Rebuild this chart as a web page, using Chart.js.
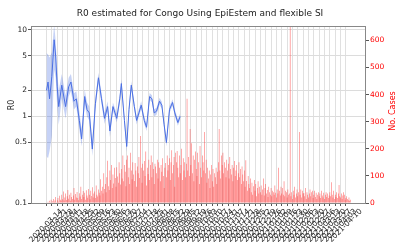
<!DOCTYPE html>
<html>
<head>
<meta charset="utf-8">
<script src="https://cdn.jsdelivr.net/npm/chart.js@4.4.0/dist/chart.umd.min.js"></script>
<style>
  html, body { margin: 0; padding: 0; background: #fff; }
  #wrap { width: 400px; height: 250px; }
</style>
</head>
<body>
<div id="wrap"><canvas id="chart"></canvas></div>
<script>
// ── DATA ──
// weekly tick labels (day 0 = 2020-03-14)
const tickLabels = [
  '2020-03-14','2020-03-21','2020-03-28','2020-04-04','2020-04-11','2020-04-18','2020-04-25',
  '2020-05-02','2020-05-09','2020-05-16','2020-05-23','2020-05-30','2020-06-06','2020-06-13',
  '2020-06-20','2020-06-27','2020-07-04','2020-07-11','2020-07-18','2020-07-25','2020-08-01',
  '2020-08-08','2020-08-15','2020-08-22','2020-08-29','2020-09-05','2020-09-12','2020-09-19',
  '2020-09-26','2020-10-03','2020-10-10','2020-10-17','2020-10-24','2020-10-31','2020-11-07',
  '2020-11-14','2020-11-21','2020-11-28','2020-12-05','2020-12-12','2020-12-19','2020-12-26',
  '2021-01-02','2021-01-09','2021-01-16','2021-01-23','2021-01-30','2021-02-06','2021-02-13',
  '2021-02-20','2021-02-27','2021-03-06','2021-03-13','2021-03-20','2021-03-27','2021-04-03',
  '2021-04-10'
];

// daily new cases, one row per week
const dailyCases = [
  2, 0, 5, 0, 8, 3, 12,
  0, 6, 15, 4, 9, 22, 3,
  10, 18, 5, 27, 12, 8, 30,
  14, 42, 9, 20, 35, 11, 25,
  48, 16, 30, 8, 38, 22, 15,
  28, 55, 12, 33, 20, 41, 18,
  10, 36, 24, 60, 15, 30, 44,
  22, 38, 12, 47, 28, 19, 52,
  30, 14, 45, 26, 58, 20, 35,
  42, 18, 65, 30, 24, 50, 38,
  28, 88, 45, 60, 35, 110, 52,
  70, 40, 95, 156, 62, 48, 120,
  85, 140, 55, 105, 72, 130, 92,
  60, 132, 98, 75, 150, 110, 68,
  125, 90, 175, 80, 140, 115, 62,
  160, 175, 95, 130, 70, 185, 120,
  88, 150, 105, 81, 148, 120, 60,
  135, 110, 170, 92, 247, 130, 75,
  145, 120, 155, 100, 190, 65, 130,
  107, 160, 85, 140, 175, 95, 150,
  125, 70, 145, 135, 110, 160, 90,
  150, 130, 80, 140, 115, 165, 100,
  55, 130, 148, 95, 175, 120, 140,
  165, 85, 150, 195, 110, 140, 170,
  60, 185, 150, 192, 130, 95, 175,
  110, 140, 200, 85, 165, 120, 150,
  95, 145, 385, 120, 170, 100, 273,
  140, 220, 110, 175, 80, 160, 190,
  125, 100, 185, 150, 70, 210, 130,
  95, 175, 150, 120, 262, 110, 160,
  75, 130, 90, 120, 55, 105, 140,
  80, 125, 60, 110, 95, 130, 70,
  115, 150, 273, 120, 90, 175, 140,
  185, 110, 150, 130, 95, 160, 120,
  145, 90, 170, 125, 105, 140, 80,
  130, 155, 100, 120, 140, 85, 110,
  150, 95, 125, 70, 135, 105, 80,
  120, 60, 158, 81, 45, 100, 70,
  55, 90, 40, 75, 30, 62, 85,
  45, 70, 25, 55, 80, 35, 60,
  40, 65, 30, 50, 90, 28, 55,
  70, 35, 48, 22, 60, 40, 30,
  55, 25, 45, 40, 30, 65, 38,
  20, 50, 35, 130, 45, 28, 60,
  35, 55, 30, 80, 25, 45, 40,
  20, 50, 30, 35, 650, 25, 40,
  15, 45, 30, 60, 20, 35, 50,
  25, 40, 262, 30, 50, 20, 45,
  35, 37, 25, 55, 15, 40, 30,
  20, 35, 50, 25, 40, 45, 18,
  30, 45, 22, 38, 15, 30, 40,
  25, 35, 18, 45, 28, 20, 38,
  15, 30, 40, 22, 35, 18, 28,
  40, 25, 77, 30, 20, 45, 15,
  30, 22, 40, 18, 35, 66, 25,
  20, 35, 15, 28, 40, 30, 12,
  18, 25, 15, 10, 20, 8, 12
];

// R0 estimate: day, median, lower and upper bound
const rDays = [0, 2, 4, 7, 10, 12, 14, 16, 20, 25, 29, 32, 36, 39, 43, 46, 50, 53, 56, 60,
  64, 68, 72, 76, 80, 83, 87, 92, 96, 98, 102, 105, 108, 111, 115, 118, 121, 124, 128, 131,
  135, 138, 141, 144, 148, 151, 154, 157, 161, 165, 168, 172, 175];
const rMid = [2.0, 2.5, 1.6, 2.9, 7.7, 5.0, 2.2, 1.3, 2.3, 1.3, 2.2, 2.5, 1.5, 1.6, 0.9, 0.55, 1.7, 1.2, 1.1, 0.42,
  1.4, 2.8, 1.6, 0.95, 1.3, 0.68, 1.3, 0.95, 1.6, 2.4, 0.9, 0.45, 1.2, 2.3, 1.3, 0.9, 1.1, 1.35, 0.9, 0.75,
  1.7, 1.6, 1.1, 1.15, 1.5, 1.35, 0.8, 0.5, 1.2, 1.45, 1.1, 0.85, 1.0];
const rLow = [0.35, 0.33, 0.4, 0.6, 3.5, 2.8, 1.3, 0.8, 1.6, 0.95, 1.7, 1.95, 1.2, 1.3, 0.7, 0.45, 1.4, 1.0, 0.9, 0.35,
  1.2, 2.4, 1.4, 0.82, 1.15, 0.58, 1.15, 0.85, 1.42, 2.15, 0.8, 0.39, 1.07, 2.05, 1.17, 0.81, 1.0, 1.22, 0.82, 0.68,
  1.55, 1.46, 1.0, 1.05, 1.37, 1.23, 0.73, 0.45, 1.1, 1.33, 1.0, 0.78, 0.92];
const rHigh = [5.4, 5.2, 4.8, 5.5, 11.5, 7.5, 3.4, 2.0, 3.1, 1.75, 2.8, 3.1, 1.85, 1.95, 1.15, 0.7, 2.05, 1.45, 1.3, 0.52,
  1.65, 3.2, 1.85, 1.1, 1.5, 0.78, 1.45, 1.08, 1.8, 2.7, 1.0, 0.52, 1.35, 2.55, 1.45, 1.0, 1.22, 1.5, 1.0, 0.83,
  1.87, 1.76, 1.21, 1.26, 1.64, 1.48, 0.88, 0.55, 1.31, 1.58, 1.2, 0.93, 1.09];

const rTicks = [0.1, 0.5, 1, 2, 5, 10];
const caseTicks = [0, 100, 200, 300, 400, 500, 600];

// ── CHART ──
const FONT = 'DejaVu Sans';
const tickDays = tickLabels.map((_, i) => i * 7);

const framePlugin = {
  id: 'frame',
  afterDraw(chart) {
    const { ctx, chartArea: a } = chart;
    ctx.save();
    ctx.strokeStyle = '#888';
    ctx.lineWidth = 1;
    ctx.strokeRect(Math.round(a.left) + 0.5, Math.round(a.top) + 0.5,
      Math.round(a.right - a.left) - 1, Math.round(a.bottom - a.top));
    // axis titles
    ctx.font = '8px "' + FONT + '"';
    ctx.textAlign = 'center';
    ctx.textBaseline = 'middle';
    ctx.fillStyle = '#222';
    ctx.translate(12, 105);
    ctx.rotate(-Math.PI / 2);
    ctx.fillText('R0', 0, 0);
    ctx.restore();
    ctx.save();
    ctx.font = '8px "' + FONT + '"';
    ctx.textAlign = 'center';
    ctx.textBaseline = 'middle';
    ctx.fillStyle = 'red';
    ctx.translate(393, 111);
    ctx.rotate(-Math.PI / 2);
    ctx.fillText('No. Cases', 0, 0);
    ctx.restore();
  }
};

new Chart(document.getElementById('chart'), {
  type: 'bar',
  data: {
    datasets: [
      {
        type: 'line',
        data: rDays.map((d, i) => ({ x: d, y: rMid[i] })),
        yAxisID: 'y',
        borderColor: '#4a6fe3',
        borderWidth: 1,
        pointRadius: 0,
        fill: false,
        order: 0
      },
      {
        type: 'line',
        data: rDays.map((d, i) => ({ x: d, y: rLow[i] })),
        yAxisID: 'y',
        borderWidth: 0,
        borderColor: 'rgba(0,0,0,0)',
        pointRadius: 0,
        fill: false,
        order: 1
      },
      {
        type: 'line',
        data: rDays.map((d, i) => ({ x: d, y: rHigh[i] })),
        yAxisID: 'y',
        borderWidth: 0,
        borderColor: 'rgba(0,0,0,0)',
        backgroundColor: 'rgba(65,105,225,0.3)',
        pointRadius: 0,
        fill: '-1',
        order: 1
      },
      {
        type: 'bar',
        data: dailyCases.map((v, i) => ({ x: i, y: v })),
        yAxisID: 'y2',
        backgroundColor: 'rgba(255,40,40,0.75)',
        borderWidth: 0,
        barPercentage: 1,
        categoryPercentage: 0.7,
        order: 2
      }
    ]
  },
  options: {
    responsive: true,
    maintainAspectRatio: false,
    animation: false,
    devicePixelRatio: 1,
    layout: { padding: 0 },
    plugins: {
      legend: { display: false },
      tooltip: { enabled: false },
      title: {
        display: true,
        text: 'R0 estimated for Congo Using EpiEstem and flexible SI',
        color: '#222',
        font: { family: FONT, size: 9, weight: 'normal' },
        padding: { top: 8, bottom: 7.2 }
      }
    },
    scales: {
      x: {
        type: 'linear',
        min: -20.3,
        max: 418.3,
        offset: false,
        afterBuildTicks: axis => { axis.ticks = tickDays.map(v => ({ value: v })); },
        afterFit: axis => { axis.height = 47; },
        grid: { color: '#e0e0e0', offset: false, tickColor: '#555', tickLength: 3 },
        border: { display: false },
        ticks: {
          autoSkip: false,
          minRotation: 45,
          maxRotation: 45,
          labelOffset: 15,
          padding: 1,
          color: '#222',
          font: { family: FONT, size: 7.5 },
          callback: (v) => tickLabels[tickDays.indexOf(v)]
        }
      },
      y: {
        type: 'logarithmic',
        position: 'left',
        min: 0.1,
        max: 11.1,
        afterBuildTicks: axis => { axis.ticks = rTicks.map(v => ({ value: v })); },
        afterFit: axis => { axis.width = 31; },
        grid: { color: '#dcdcdc', tickColor: '#555', tickLength: 3 },
        border: { display: false },
        ticks: {
          padding: 1,
          color: '#222',
          font: { family: FONT, size: 7.5 },
          callback: v => String(v)
        }
      },
      y2: {
        type: 'linear',
        position: 'right',
        min: 0,
        max: 653,
        afterBuildTicks: axis => { axis.ticks = caseTicks.map(v => ({ value: v })); },
        afterFit: axis => { axis.width = 34; },
        grid: { drawOnChartArea: false, tickColor: '#555', tickLength: 3 },
        border: { display: false },
        ticks: {
          padding: 1,
          color: 'red',
          font: { family: FONT, size: 7.5 },
          callback: v => String(v)
        }
      }
    }
  },
  plugins: [framePlugin]
});
</script>
</body>
</html>
